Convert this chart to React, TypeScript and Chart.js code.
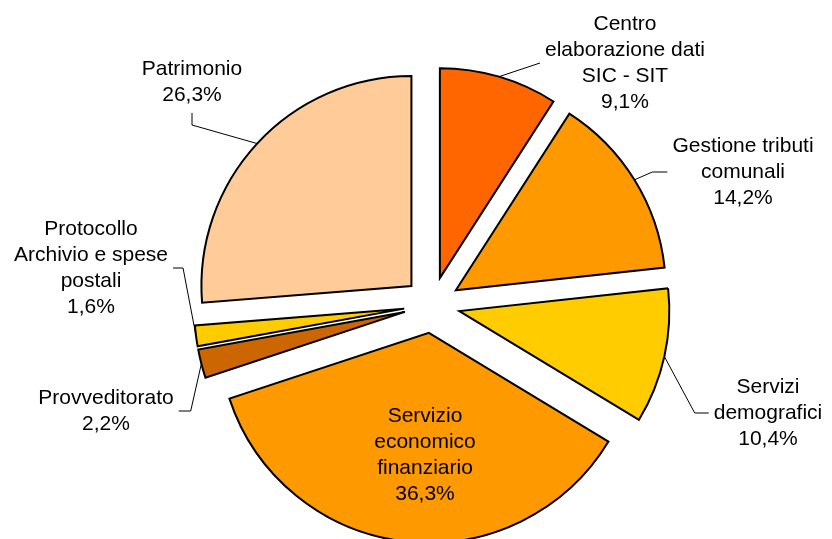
import React, { useEffect, useRef } from "react";
import { Chart, registerables } from "chart.js";

Chart.register(...registerables);

const CATEGORIES = [
  "Centro\nelaborazione dati\nSIC - SIT",
  "Gestione tributi\ncomunali",
  "Servizi\ndemografici",
  "Servizio\neconomico\nfinanziario",
  "Provveditorato",
  "Protocollo\nArchivio e spese\npostali",
  "Patrimonio",
];
const VALUES = [9.1, 14.2, 10.4, 36.3, 2.2, 1.6, 26.3];
const COLORS = ["#FF6600", "#FF9900", "#FFCC00", "#FF9900", "#CC6600", "#FFCC00", "#FFCC99"];

// label layout (pixel offsets of the label centre from the pie centre)
const LABEL_OFFSETS: [number, number][] = [
  [193, -242],
  [311, -133],
  [336, 108],
  [-7, 150],
  [-326, 106],
  [-341, -37],
  [-240, -223],
];
const LEADERS: ({ side: string; stub: number } | null)[] = [
  { side: "left", stub: 0 },
  { side: "left", stub: 15 },
  { side: "left", stub: 14 },
  null,
  { side: "right", stub: 12 },
  { side: "right", stub: 10 },
  { side: "bottom", stub: 12 },
];

const RADIUS = 210;
const EXPLODE = 28;
const FONT = "21px 'Liberation Sans', Arial, sans-serif";
const LINE_H = 26;
const PAD = 5;

const fmtPct = (v: number, total: number) =>
  ((v / total) * 100).toFixed(1).replace(".", ",") + "%";

// Chart.js enlarges and narrows exploded arcs; undo that so each slice is only translated.
const radiusFix = {
  id: "radiusFix",
  beforeDatasetsDraw(chart: any) {
    const meta = chart.getDatasetMeta(0);
    const R = meta.controller.outerRadius;
    meta.data.forEach((el: any) => {
      if (!el.$orig) el.$orig = { s: el.startAngle, e: el.endAngle };
      const off = (el.options.offset || 0) / 4;
      const fix = 1 - Math.sin(Math.min(Math.PI, el.circumference || 0));
      const ro = off * fix;
      el.outerRadius = R - ro;
      const da = ro / (2 * Math.PI * R);
      el.startAngle = el.$orig.s - da;
      el.endAngle = el.$orig.e + da;
    });
  },
};

const labelsPlugin = {
  id: "pieLabels",
  afterDatasetsDraw(chart: any) {
    const ctx = chart.ctx;
    const meta = chart.getDatasetMeta(0);
    const R = meta.controller.outerRadius;
    const total = VALUES.reduce((a, b) => a + b, 0);
    ctx.save();
    ctx.font = FONT;
    meta.data.forEach((el: any, i: number) => {
      const mid = (el.startAngle + el.endAngle) / 2;
      const t = (el.options.offset || 0) / 4;
      const cos = Math.cos(mid);
      const sin = Math.sin(mid);
      const ax = el.x + (t + R) * cos;
      const ay = el.y + (t + R) * sin;
      const lines = [...CATEGORIES[i].split("\n"), fmtPct(VALUES[i], total)];
      const cx = el.x + LABEL_OFFSETS[i][0];
      const cy = el.y + LABEL_OFFSETS[i][1];
      const w = Math.max(...lines.map((l) => ctx.measureText(l).width));
      const h = lines.length * LINE_H;
      const left = cx - w / 2 - PAD;
      const right = cx + w / 2 + PAD;
      const bottom = cy + h / 2 + PAD;
      const top = cy - h / 2 - PAD;
      const ld = LEADERS[i];
      if (ld) {
        let px = cx,
          py = cy,
          ex = cx,
          ey = cy;
        if (ld.side === "left") {
          px = left;
          ex = left - ld.stub;
        } else if (ld.side === "right") {
          px = right;
          ex = right + ld.stub;
        } else if (ld.side === "bottom") {
          py = bottom;
          ey = bottom + ld.stub;
        } else {
          py = top;
          ey = top - ld.stub;
        }
        ctx.beginPath();
        ctx.strokeStyle = "#000";
        ctx.lineWidth = 1;
        ctx.moveTo(ax, ay);
        ctx.lineTo(ex, ey);
        ctx.lineTo(px, py);
        ctx.stroke();
      }
      ctx.fillStyle = "#000";
      ctx.textAlign = "center";
      ctx.textBaseline = "middle";
      lines.forEach((l, k) => {
        ctx.fillText(l, cx, cy + (k - (lines.length - 1) / 2) * LINE_H);
      });
    });
    ctx.restore();
  },
};

export default function App() {
  const ref = useRef<HTMLCanvasElement | null>(null);
  useEffect(() => {
    if (!ref.current) return;
    const chart = new Chart(ref.current, {
      type: "pie",
      data: {
        labels: CATEGORIES,
        datasets: [
          {
            data: VALUES,
            backgroundColor: COLORS,
            borderColor: "#000",
            borderWidth: 2,
            borderJoinStyle: "miter",
            offset: EXPLODE * 4,
          } as any,
        ],
      },
      options: {
        responsive: false,
        animation: false,
        radius: RADIUS,
        layout: { padding: { left: 32, top: 71, right: 0, bottom: 0 } },
        plugins: {
          legend: { display: false },
          tooltip: { enabled: false },
        },
        events: [],
      } as any,
      plugins: [radiusFix, labelsPlugin],
    });
    return () => chart.destroy();
  }, []);
  return (
    <div style={{ position: "fixed", left: 0, top: 0, width: 832, height: 539, background: "#fff" }}>
      <canvas ref={ref} width={832} height={539} style={{ display: "block" }} />
    </div>
  );
}
